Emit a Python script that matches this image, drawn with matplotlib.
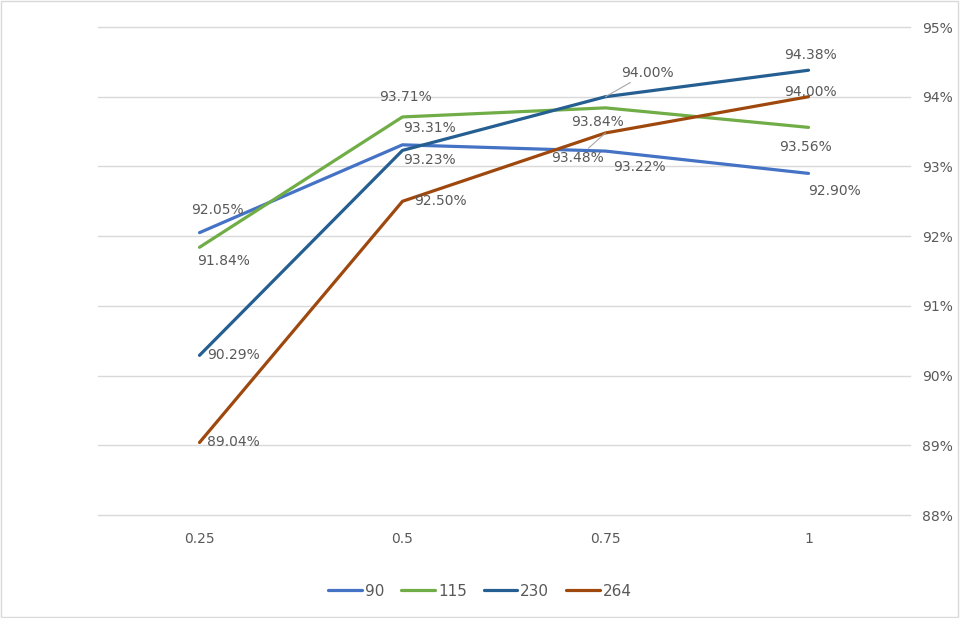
import matplotlib
matplotlib.use("Agg")

import matplotlib.pyplot as plt
from matplotlib.patches import Rectangle
from matplotlib.ticker import FuncFormatter

# 데이터
categories = ["0.25", "0.5", "0.75", "1"]
series_names = ["90", "115", "230", "264"]
s90 = [92.05, 93.31, 93.22, 92.90]
s115 = [91.84, 93.71, 93.84, 93.56]
s230 = [90.29, 93.23, 94.00, 94.38]
s264 = [89.04, 92.50, 93.48, 94.00]

colors = ["#4472C4", "#70AD47", "#255E91", "#9E480E"]
series = [s90, s115, s230, s264]

# 라벨 오프셋 (pixels): 시리즈별, 카테고리별
offsets = [
    [(18, 23), (27, 17), (34, -16), (26, -18)],
    [(24, -14), (3, 20), (-8, -14), (-3, -20)],
    [(34, 0), (27, -10), (42, 24), (2, 15)],
    [(34, 0), (38, 0), (-28, -25), (2, 5)],
]
leaders = {(2, 2), (3, 2)}

text_color = "#595959"
grid_color = "#D9D9D9"

fig = plt.figure(figsize=(9.6, 6.18), dpi=100)
ax = fig.add_axes([98 / 960, 1 - 515 / 618, 812 / 960, 488 / 618])

x = range(len(categories))
for vals, col, name in zip(series, colors, series_names):
    ax.plot(x, vals, color=col, lw=2.3, label=name, solid_capstyle="round")

for si, vals in enumerate(series):
    for ci, v in enumerate(vals):
        dx, dy = offsets[si][ci]
        arrow = None
        if (si, ci) in leaders:
            arrow = dict(arrowstyle="-", color="#A6A6A6", lw=0.8,
                         shrinkA=0, shrinkB=0)
        ax.annotate(f"{v:.2f}%", (ci, v), xytext=(dx, dy),
                    textcoords="offset pixels", ha="center", va="center",
                    fontsize=10, color=text_color, arrowprops=arrow)

ax.set_xlim(-0.5, len(categories) - 0.5)
ax.set_ylim(88, 95)
ax.set_xticks(list(x))
ax.set_xticklabels(categories)
ax.set_yticks(range(88, 96))
ax.yaxis.set_major_formatter(FuncFormatter(lambda v, p: f"{v:.0f}%"))
ax.yaxis.tick_right()
ax.tick_params(axis="both", length=0, labelsize=10, labelcolor=text_color)
ax.tick_params(axis="x", pad=12)
ax.tick_params(axis="y", pad=8.5)
ax.grid(axis="y", color=grid_color, lw=1)
for gl in ax.get_ygridlines():
    gl.set_clip_on(False)
ax.set_axisbelow(True)
for sp in ax.spines.values():
    sp.set_visible(False)

fig.legend(loc="center", bbox_to_anchor=(0.5, 1 - 591 / 618), ncol=4,
           frameon=False, fontsize=11, handlelength=2.2, handletextpad=0.2,
           columnspacing=1.1, labelcolor=text_color)

# 차트 테두리
fig.add_artist(Rectangle((0.001, 0.001), 0.997, 0.997, transform=fig.transFigure,
                         fill=False, edgecolor="#D9D9D9", lw=1))

fig.savefig("out.png", dpi=100)
plt.close(fig)
